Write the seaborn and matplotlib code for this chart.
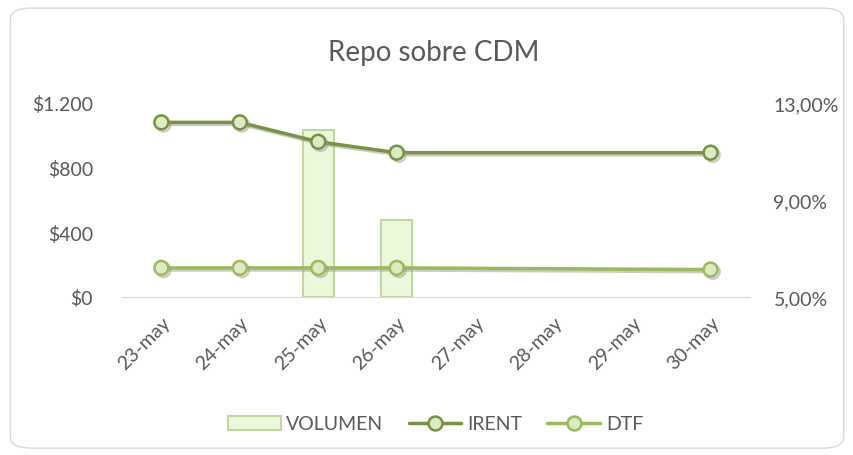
import pandas as pd
import numpy as np
import seaborn as sns
import matplotlib.pyplot as plt
import matplotlib.patheffects as pe
from matplotlib.patches import FancyBboxPatch, Patch
from matplotlib.lines import Line2D
from matplotlib.ticker import FixedLocator

dates = ['23-may', '24-may', '25-may', '26-may', '27-may', '28-may', '29-may', '30-may']
vol_dates = ['25-may', '26-may']
volumen = [1030, 475]
rate_dates = ['23-may', '24-may', '25-may', '26-may', '30-may']
irent = [12.2, 12.2, 11.4, 10.95, 10.95]
dtf = [6.2, 6.2, 6.2, 6.2, 6.13]

sns.set_style("white")
plt.rcParams['font.family'] = ['Lato', 'DejaVu Sans']
txt = '#595959'

fig = plt.figure(figsize=(8.54, 4.56), dpi=100)
fig.patches.append(FancyBboxPatch((0.012, 0.015), 0.976, 0.965, boxstyle="round,pad=0,rounding_size=0.025",
                                  transform=fig.transFigure, fc='none', ec='#D9D9D9', lw=1))
ax = fig.add_axes([0.143, 0.3465, 0.735, 0.4255])

vol_df = pd.DataFrame({'fecha': vol_dates, 'volumen': volumen})
sns.barplot(data=vol_df, x='fecha', y='volumen', order=dates, ax=ax, width=0.4,
            color='#EBF9DA', edgecolor='#C3D69B', linewidth=1.5, saturation=1)
ax.set_ylim(0, 1200)
ax.set_xlim(-0.5, len(dates) - 0.5)
ax.yaxis.set_major_locator(FixedLocator([0, 400, 800, 1200]))
ax.set_yticklabels(['$0', '$400', '$800', '$1.200'])
ax.set_xlabel('')
ax.set_ylabel('')
for s in ['top', 'left', 'right']:
    ax.spines[s].set_visible(False)
ax.spines['bottom'].set_color('#D9D9D9')
ax.tick_params(axis='y', length=0, pad=21, labelsize=14, labelcolor=txt)
ax.tick_params(axis='x', length=0, pad=12, labelsize=14, labelcolor=txt)
for lab in ax.get_xticklabels():
    lab.set_rotation(45)
    lab.set_ha('right')
    lab.set_rotation_mode('anchor')

ax2 = ax.twinx()
pos = [dates.index(d) for d in rate_dates]
rate_df = pd.DataFrame({'pos': pos + pos, 'valor': irent + dtf,
                        'serie': ['IRENT'] * len(pos) + ['DTF'] * len(pos)})
shadow = [pe.SimpleLineShadow(offset=(1.5, -1.5), shadow_color='#999999', alpha=0.5), pe.Normal()]
sns.lineplot(data=rate_df, x='pos', y='valor', hue='serie', hue_order=['IRENT', 'DTF'],
             palette={'IRENT': '#77933C', 'DTF': '#9BBB59'}, ax=ax2, sort=False, legend=False,
             linewidth=2.5, marker='o', markersize=10, markerfacecolor='#DCEBC3',
             markeredgewidth=1.8, path_effects=shadow)
for line, ec in zip(ax2.lines, ['#77933C', '#9BBB59']):
    line.set_markeredgecolor(ec)
ax2.set_ylim(5, 13)
ax2.set_xlim(-0.5, len(dates) - 0.5)
ax2.yaxis.set_major_locator(FixedLocator([5, 9, 13]))
ax2.set_yticklabels(['5,00%', '9,00%', '13,00%'])
ax2.set_ylabel('')
ax2.set_xlabel('')
for s in ['top', 'left', 'right', 'bottom']:
    ax2.spines[s].set_visible(False)
ax2.tick_params(axis='y', length=0, pad=17, labelsize=14, labelcolor=txt)

fig.text(0.508, 0.884, 'Repo sobre CDM', ha='center', va='center', fontsize=20, color=txt)

handles = [Patch(facecolor='#EBF9DA', edgecolor='#C3D69B', linewidth=1.5),
           Line2D([], [], color='#77933C', lw=2.5, marker='o', ms=10, mfc='#DCEBC3', mec='#77933C', mew=1.8),
           Line2D([], [], color='#9BBB59', lw=2.5, marker='o', ms=10, mfc='#DCEBC3', mec='#9BBB59', mew=1.8)]
fig.legend(handles, ['VOLUMEN', 'IRENT', 'DTF'], loc='center', bbox_to_anchor=(0.51, 0.068), ncol=3,
           frameon=False, fontsize=14, labelcolor=txt, handlelength=2.7, handletextpad=0.3,
           columnspacing=1.3, handleheight=0.75)

fig.savefig('out.png', dpi=100)
